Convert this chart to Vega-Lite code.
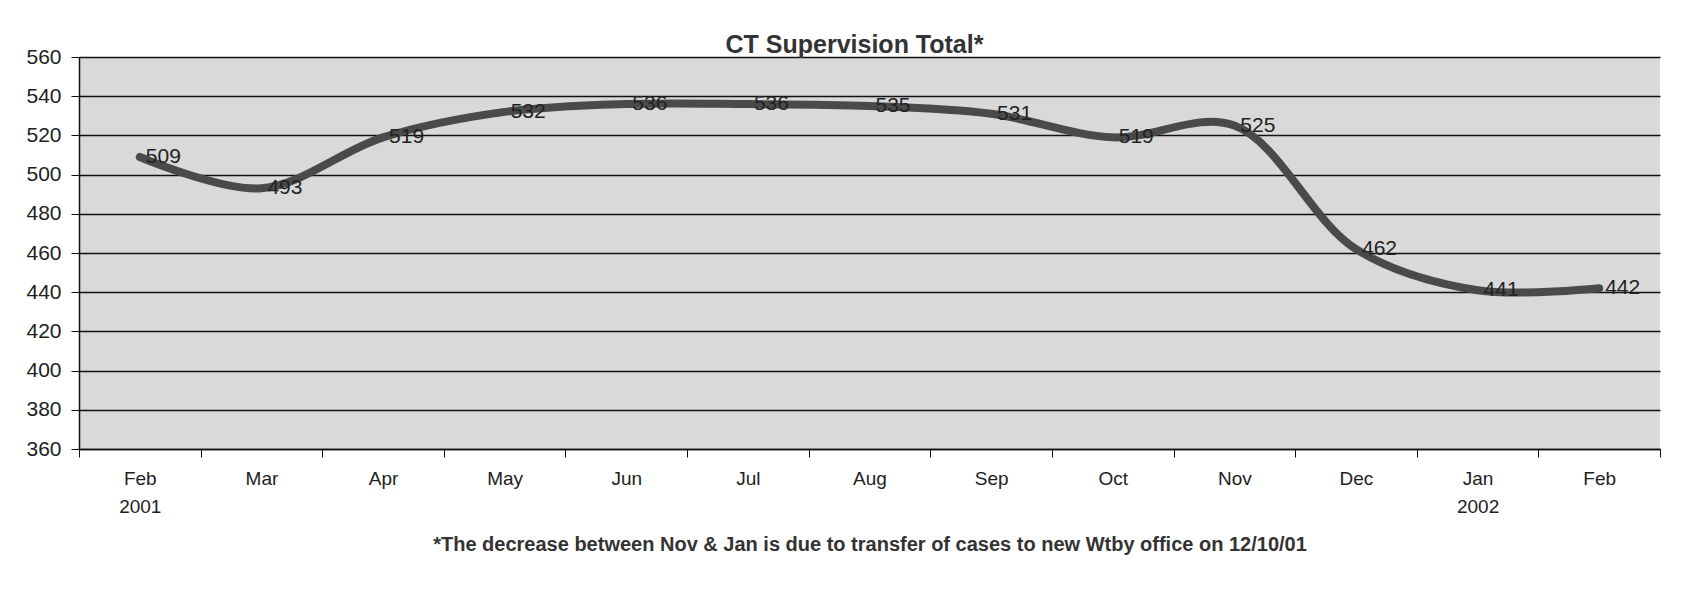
{
  "$schema": "https://vega.github.io/schema/vega-lite/v6.json",
  "autosize": "none",
  "width": 1581,
  "height": 392,
  "padding": {"left": 79, "top": 57, "right": 36, "bottom": 147},
  "background": "white",
  "config": {
    "font": "Liberation Sans",
    "view": {"fill": "#d9d9d9", "stroke": null}
  },
  "title": {
    "text": "CT Supervision Total*",
    "fontSize": 25,
    "fontWeight": "bold",
    "font": "Liberation Sans",
    "color": "#333333",
    "anchor": "middle",
    "offset": -12,
    "dx": -15
  },
  "data": {
    "values": [
      {"month": "Feb 2001", "total": 509},
      {"month": "Mar", "total": 493},
      {"month": "Apr", "total": 519},
      {"month": "May", "total": 532},
      {"month": "Jun", "total": 536},
      {"month": "Jul", "total": 536},
      {"month": "Aug", "total": 535},
      {"month": "Sep", "total": 531},
      {"month": "Oct", "total": 519},
      {"month": "Nov", "total": 525},
      {"month": "Dec", "total": 462},
      {"month": "Jan 2002", "total": 441},
      {"month": "Feb 2002", "total": 442}
    ]
  },
  "encoding": {
    "x": {
      "field": "month",
      "type": "nominal",
      "sort": null,
      "scale": {"paddingInner": 0, "paddingOuter": 0},
      "axis": {
        "title": "*The decrease between Nov & Jan is due to transfer of cases to new Wtby office on 12/10/01",
        "titleFont": "Liberation Sans",
        "titleFontSize": 20,
        "titleFontWeight": "bold",
        "titleColor": "#333333",
        "titlePadding": 18,
        "labelAngle": 0,
        "labelFontSize": 19,
        "labelColor": "#222222",
        "labelPadding": 12,
        "labelLineHeight": 28,
        "labelExpr": "datum.value == 'Feb 2001' ? ['Feb', '2001'] : datum.value == 'Jan 2002' ? ['Jan', '2002'] : datum.value == 'Feb 2002' ? 'Feb' : datum.value",
        "tickBand": "extent",
        "ticks": true,
        "tickSize": 8,
        "tickColor": "#111111",
        "domainColor": "#111111",
        "domainWidth": 1.5,
        "grid": false
      }
    },
    "y": {
      "field": "total",
      "type": "quantitative",
      "scale": {"domain": [360, 560], "zero": false, "nice": false},
      "axis": {
        "title": null,
        "values": [360, 380, 400, 420, 440, 460, 480, 500, 520, 540, 560],
        "labelFontSize": 21,
        "labelColor": "#222222",
        "labelPadding": 10,
        "tickSize": 8,
        "tickColor": "#111111",
        "domainColor": "#111111",
        "domainWidth": 1.5,
        "grid": true,
        "gridColor": "#111111",
        "gridWidth": 1.5,
        "gridOpacity": 1
      }
    }
  },
  "layer": [
    {
      "mark": {
        "type": "line",
        "interpolate": "catmull-rom",
        "color": "#4a4a4a",
        "strokeWidth": 8,
        "strokeCap": "round"
      }
    },
    {
      "mark": {
        "type": "text",
        "align": "left",
        "baseline": "middle",
        "dx": 6,
        "dy": 0,
        "fontSize": 21,
        "color": "#222222",
        "font": "Liberation Sans"
      },
      "encoding": {"text": {"field": "total", "type": "quantitative"}}
    }
  ]
}
